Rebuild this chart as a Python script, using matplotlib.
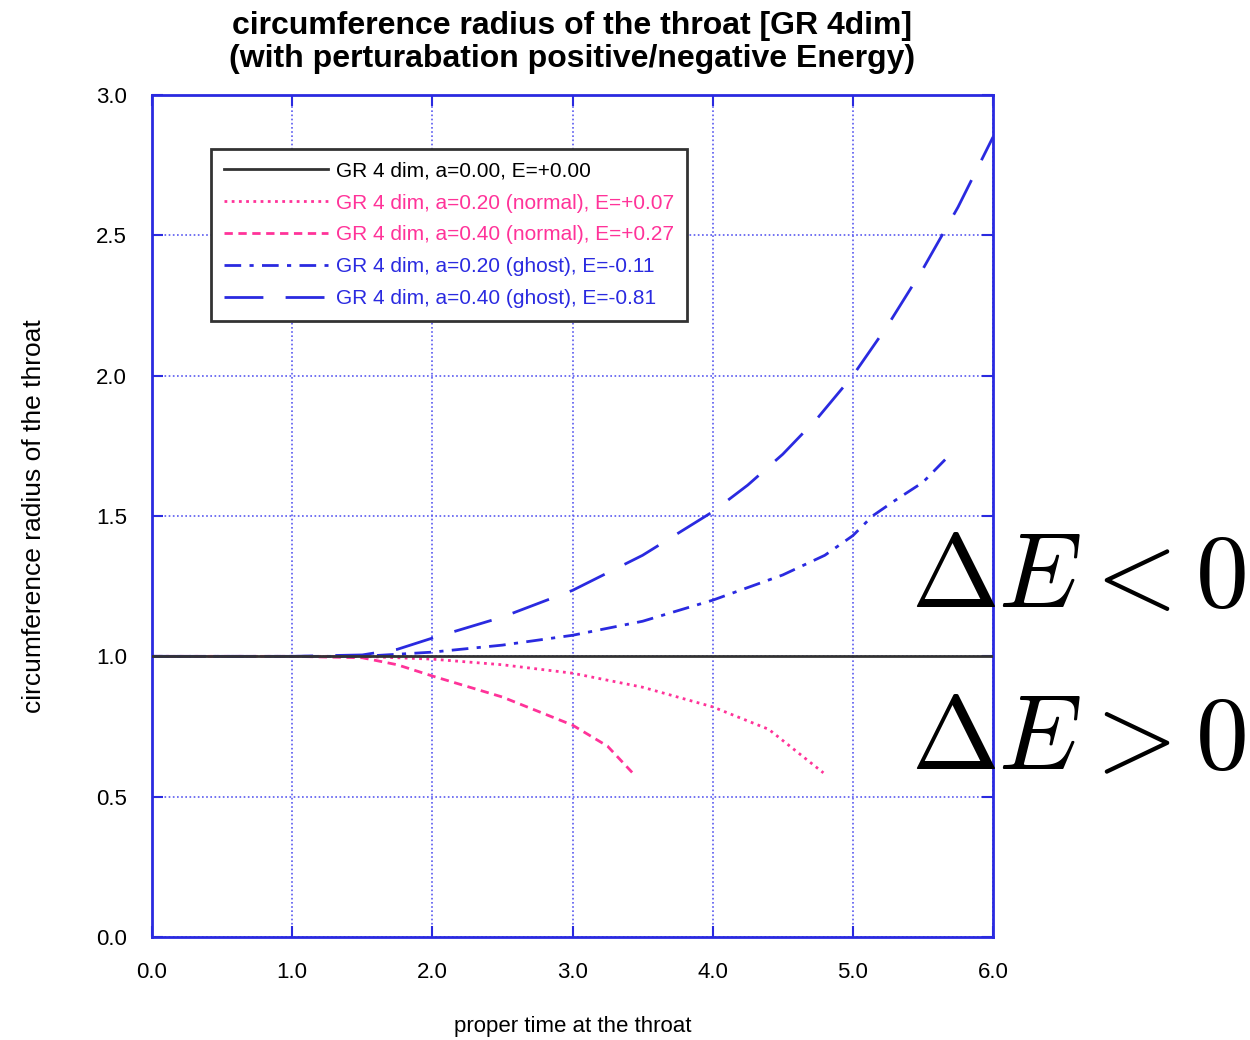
import matplotlib.pyplot as plt

# values
t_flat = [0.0, 6.0]
r_flat = [1.0, 1.0]

t_n20 = [0.0, 1.0, 1.5, 2.0, 2.5, 3.0, 3.5, 4.0, 4.4, 4.79]
r_n20 = [1.0, 1.0, 1.0, 0.99, 0.97, 0.94, 0.89, 0.82, 0.74, 0.585]

t_n40 = [0.0, 1.0, 1.5, 1.75, 2.0, 2.5, 3.0, 3.25, 3.43]
r_n40 = [1.0, 1.0, 0.995, 0.97, 0.93, 0.855, 0.755, 0.68, 0.584]

t_g20 = [0.0, 1.0, 1.5, 2.0, 2.5, 3.0, 3.5, 4.0, 4.5, 4.8, 5.0, 5.14, 5.3, 5.5, 5.69]
r_g20 = [1.0, 1.0, 1.0, 1.015, 1.04, 1.075, 1.125, 1.20, 1.29, 1.36, 1.43, 1.50, 1.555, 1.62, 1.717]

t_g40 = [0.0, 1.0, 1.5, 1.75, 2.0, 2.5, 3.0, 3.5, 4.0, 4.25, 4.5, 4.75, 5.0, 5.25, 5.5, 5.75, 6.0]
r_g40 = [1.0, 1.0, 1.005, 1.025, 1.065, 1.14, 1.235, 1.36, 1.515, 1.61, 1.72, 1.85, 2.0, 2.18, 2.38, 2.6, 2.85]

labels = [
    "GR 4 dim, a=0.00, E=+0.00",
    "GR 4 dim, a=0.20 (normal), E=+0.07",
    "GR 4 dim, a=0.40 (normal), E=+0.27",
    "GR 4 dim, a=0.20 (ghost), E=-0.11",
    "GR 4 dim, a=0.40 (ghost), E=-0.81",
]
x_ticks = [0.0, 1.0, 2.0, 3.0, 4.0, 5.0, 6.0]
y_ticks = [0.0, 0.5, 1.0, 1.5, 2.0, 2.5, 3.0]

plt.rcParams['font.family'] = ['Liberation Sans', 'DejaVu Sans']
plt.rcParams['mathtext.fontset'] = 'cm'

PINK = '#ff3399'
BLUE = '#2a2ae0'
GRID = '#5a5af0'

fig = plt.figure(figsize=(12.5, 10.4), dpi=100)
ax = fig.add_axes([0.1216, 0.099, 0.6728, 0.8097])

ax.plot(t_flat, r_flat, color='#333333', lw=2.0, label=labels[0], zorder=3)
ax.plot(t_n20, r_n20, color=PINK, lw=2.0, linestyle=(0, (1, 1.6)), label=labels[1])
ax.plot(t_n40, r_n40, color=PINK, lw=2.0, linestyle=(0, (3, 2)), label=labels[2])
ax.plot(t_g20, r_g20, color=BLUE, lw=2.0, linestyle=(0, (6, 3, 1.5, 3)), label=labels[3])
ax.plot(t_g40, r_g40, color=BLUE, lw=2.0, linestyle=(0, (14, 8)), label=labels[4])

ax.set_xlim(0, 6)
ax.set_ylim(0, 3)
ax.set_xticks(x_ticks)
ax.set_yticks(y_ticks)
ax.set_xticklabels([f"{v:.1f}" for v in x_ticks])
ax.set_yticklabels([f"{v:.1f}" for v in y_ticks])
ax.tick_params(direction='in', length=8, width=1.5, color=BLUE,
               top=True, right=True, labelsize=16, pad=18)
ax.grid(True, color=GRID, linestyle=(0, (1, 1.5)), linewidth=1.2)
for sp in ax.spines.values():
    sp.set_color(BLUE)
    sp.set_linewidth(2)

ax.set_xlabel("proper time at the throat", fontsize=16, labelpad=24)
ax.set_ylabel("circumference radius of the throat", fontsize=19, labelpad=36)
ax.set_title("circumference radius of the throat [GR 4dim]\n"
             "(with perturabation positive/negative Energy)",
             fontsize=23, fontweight='bold', pad=20, linespacing=1.15)

leg = ax.legend(loc='upper left', bbox_to_anchor=(0.058, 0.948), fontsize=15,
                handlelength=5.0, handletextpad=0.4, labelspacing=0.62,
                fancybox=False, edgecolor='#333333', framealpha=1,
                borderpad=0.6)
leg.get_frame().set_linewidth(2)
for txt, c in zip(leg.get_texts(), ['black', PINK, PINK, BLUE, BLUE]):
    txt.set_color(c)

fig.text(0.997, 0.443, r"$\Delta E < 0$", fontsize=76, ha='right', va='center')
fig.text(0.997, 0.287, r"$\Delta E > 0$", fontsize=76, ha='right', va='center')

fig.savefig("out.png", dpi=100)
